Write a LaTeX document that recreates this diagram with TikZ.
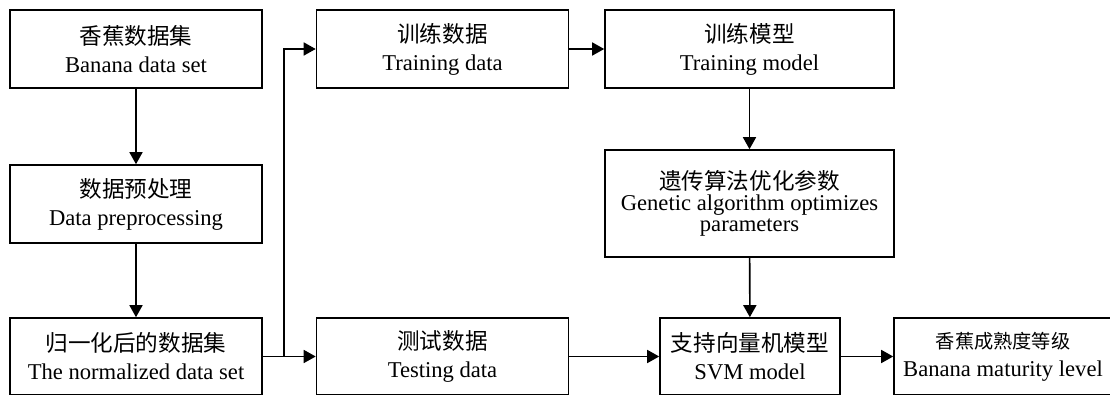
\documentclass[tikz,border=0pt]{standalone}
\usepackage{fontspec}
\setmainfont{Liberation Serif}
\newfontfamily\cjk{Noto Sans CJK SC}
\usetikzlibrary{arrows.meta}

\tikzset{
  box/.style={draw=black,line width=0.8pt,rectangle,align=center,inner sep=0pt},
  arr/.style={draw=black,line width=0.8pt,-{Triangle[length=6pt,width=6.5pt]}}
}
\tikzstyle{every node}=[font=\fontsize{11.3}{14}\selectfont]

\begin{document}
\begin{tikzpicture}[x=0.5pt,y=-0.5pt]
    \useasboundingbox (0,0) rectangle (1110,395);
    \node[box,minimum width=126pt,minimum height=39pt] (data)  at (136,49)    {{\cjk 香蕉数据集}\\Banana data set};
    \node[box,minimum width=126pt,minimum height=39pt] (pre)   at (136,204)   {{\cjk 数据预处理}\\Data preprocessing};
    \node[box,minimum width=126pt,minimum height=38.5pt] (norm) at (136,356.5) {{\cjk 归一化后的数据集}\\The normalized data set};
    \node[box,minimum width=126pt,minimum height=39pt] (train) at (442.5,49)  {{\cjk 训练数据}\\Training data};
    \node[box,minimum width=126pt,minimum height=38.5pt] (test) at (442.5,356.5) {{\cjk 测试数据}\\Testing data};
    \node[box,minimum width=144.5pt,minimum height=39pt] (model) at (749.5,49) {{\cjk 训练模型}\\Training model};
    \node[box,minimum width=144.5pt,minimum height=53.5pt,font=\fontsize{11.3}{10.5}\selectfont] (ga) at (749.5,203.5)
        {{\cjk 遗传算法优化参数}\\Genetic algorithm optimizes\\parameters};
    \node[box,minimum width=90pt,minimum height=38.5pt] (svm)  at (750,356.5)  {{\cjk 支持向量机模型}\\SVM model};
    \node[box,minimum width=109pt,minimum height=38.5pt] (level) at (1003,356.5)
        {{\cjk\fontsize{9.6}{12}\selectfont 香蕉成熟度等级}\\Banana maturity level};
    \coordinate (split) at (284,356.5);
    \draw [arr] (data) -- (pre);
    \draw [arr] (pre) -- (norm);
    \draw [arr] (norm) -- (test);
    \draw [arr] (split) |- (train.west);
    \draw [arr] (train) -- (model);
    \draw [arr] (model) -- (ga);
    \draw [arr] (ga) -- (svm);
    \draw [arr] (test) -- (svm);
    \draw [arr] (svm) -- (level);
\end{tikzpicture}
\end{document}
